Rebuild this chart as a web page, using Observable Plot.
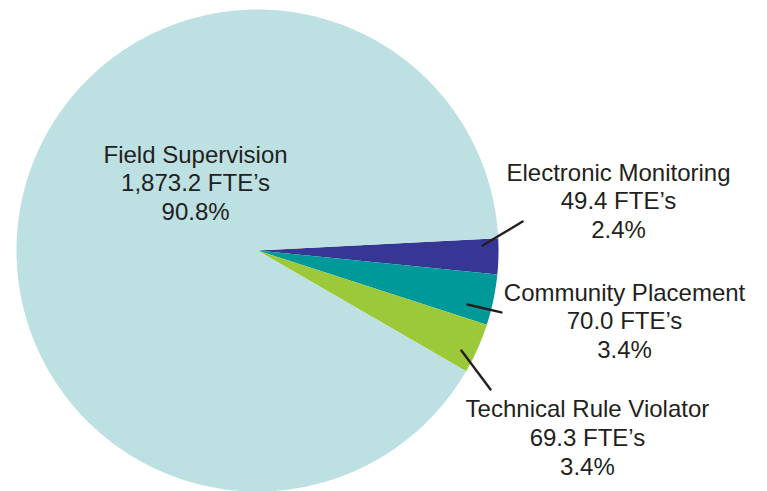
<!DOCTYPE html>
<html>
<head>
<meta charset="utf-8">
<script src="https://cdn.jsdelivr.net/npm/d3@7"></script>
<script src="https://cdn.jsdelivr.net/npm/@observablehq/plot@0.6"></script>
<style>
  html, body { margin: 0; padding: 0; background: #ffffff; }
  #chart svg { display: block; overflow: visible; }
</style>
</head>
<body>
<div id="chart"></div>
<script>
// ---- Data ----
const categories = ["Electronic Monitoring", "Community Placement", "Technical Rule Violator", "Field Supervision"];
const ftes = [49.4, 70.0, 69.3, 1873.2];
const colors = ["#363795", "#00999a", "#9bc93a", "#bde0e3"];

// ---- Layout (data units, pie radius = 1) ----
const startDeg = -2.9; // clockwise from 3 o'clock
const labelPos = [
  [1.498, 0.375],
  [1.523, -0.123],
  [1.369, -0.608],
  [-0.257, 0.450]
];
const leaders = [
  [[0.934, 0.021], [1.100, 0.120]],
  [[0.871, -0.224], [1.012, -0.257]],
  [[0.846, -0.415], [0.967, -0.577]]
];

// ---- Build slice polygons from values ----
const total = d3.sum(ftes);
const slicePts = [];
let acc = startDeg;
ftes.forEach((v, i) => {
  const span = v / total * 360;
  const a0 = acc, a1 = acc + span;
  slicePts.push({k: categories[i], x: 0, y: 0});
  const steps = Math.max(2, Math.ceil(span / 0.5));
  for (let s = 0; s <= steps; s++) {
    const a = (a0 + (a1 - a0) * s / steps) * Math.PI / 180;
    slicePts.push({k: categories[i], x: Math.cos(a), y: -Math.sin(a)});
  }
  acc = a1;
});

const fmtN = d3.format(",.1f");
const fmtP = d3.format(".1%");
const labels = categories.map((c, i) => ({
  x: labelPos[i][0], y: labelPos[i][1],
  text: `${c}\n${fmtN(ftes[i])} FTE\u2019s\n${fmtP(ftes[i] / total)}`
}));
const leaderPts = leaders.flatMap((seg, i) => seg.map(p => ({k: i, x: p[0], y: p[1]})));

const chart = Plot.plot({
  width: 767,
  height: 491,
  marginLeft: 16,
  marginRight: 269,
  marginTop: 9,
  marginBottom: 0,
  x: {domain: [-1, 1], axis: null},
  y: {domain: [-1, 1], axis: null},
  color: {domain: categories, range: colors},
  style: {background: "#ffffff", fontFamily: "'Liberation Sans', Arial, Helvetica, sans-serif"},
  marks: [
    Plot.line(slicePts, {x: "x", y: "y", z: "k", fill: "k", stroke: "none", curve: "linear-closed", clip: false}),
    Plot.line(leaderPts, {x: "x", y: "y", z: "k", stroke: "#231f20", strokeWidth: 2.4, clip: false}),
    Plot.text(labels, {
      x: "x", y: "y", text: "text",
      fontSize: 24, lineHeight: 1.2, lineAnchor: "top", textAnchor: "middle",
      fill: "#231f20", clip: false
    })
  ]
});
document.getElementById("chart").appendChild(chart);
</script>
</body>
</html>
